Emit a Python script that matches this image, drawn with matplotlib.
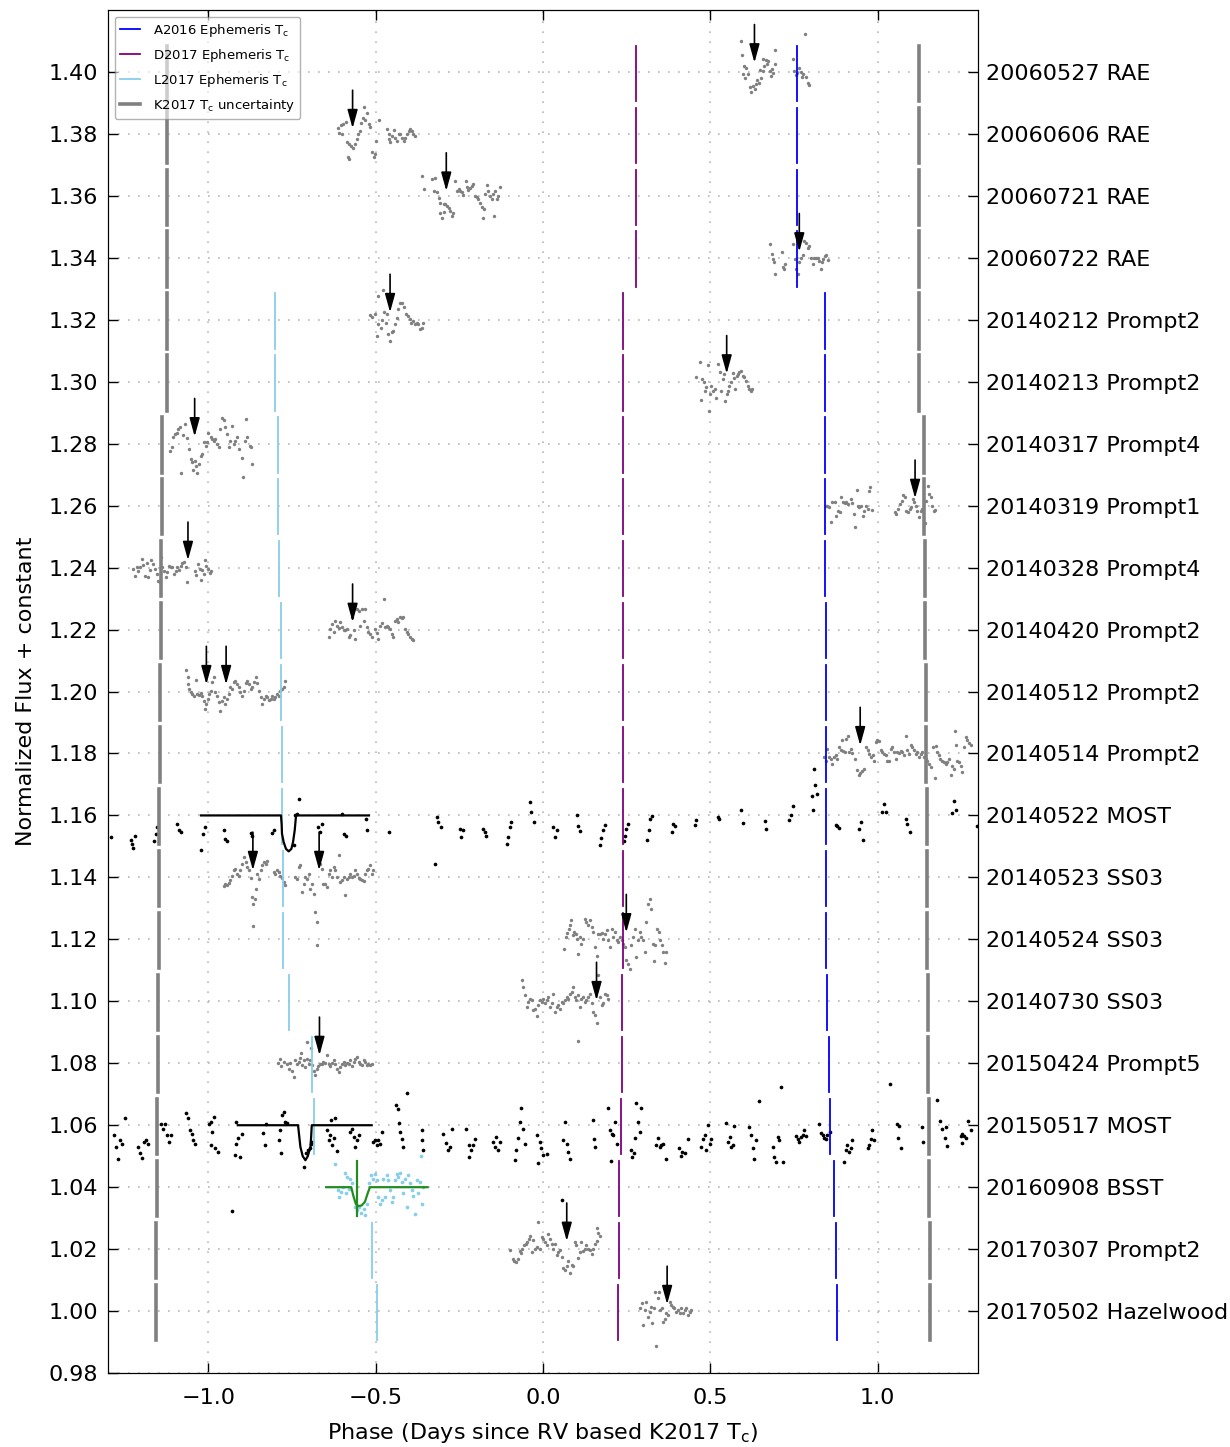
import matplotlib.pyplot as plt

# dataset rows (vertical offsets) and names shown on the right axis
rows = [1.40, 1.38, 1.36, 1.34, 1.32, 1.30, 1.28, 1.26, 1.24, 1.22, 1.20,
        1.18, 1.16, 1.14, 1.12, 1.10, 1.08, 1.06, 1.04, 1.02, 1.00]
names = ['20060527 RAE', '20060606 RAE', '20060721 RAE', '20060722 RAE',
         '20140212 Prompt2', '20140213 Prompt2', '20140317 Prompt4',
         '20140319 Prompt1', '20140328 Prompt4', '20140420 Prompt2',
         '20140512 Prompt2', '20140514 Prompt2', '20140522 MOST',
         '20140523 SS03', '20140524 SS03', '20140730 SS03',
         '20150424 Prompt5', '20150517 MOST', '20160908 BSST',
         '20170307 Prompt2', '20170502 Hazelwood']

# predicted transit centres for each row (phase, days)
nan = float('nan')
a2016_tc = [0.758, 0.758, 0.758, 0.758, 0.843, 0.843, 0.843, 0.843, 0.844, 0.845, 0.845,
            0.846, 0.846, 0.846, 0.847, 0.849, 0.856, 0.857, 0.871, 0.876, 0.879]
d2017_tc = [0.279, 0.279, 0.279, 0.279, 0.239, 0.239, 0.239, 0.239, 0.239, 0.239, 0.239,
            0.239, 0.239, 0.239, 0.239, 0.237, 0.235, 0.234, 0.228, 0.226, 0.224]
l2017_tc = [nan, nan, nan, nan, -0.802, -0.802, -0.793, -0.793, -0.790, -0.784, -0.782,
            -0.781, -0.779, -0.778, -0.776, -0.760, -0.689, -0.684, -0.557, -0.510, -0.496]
k2017_sig = [1.124, 1.124, 1.124, 1.124, 1.125, 1.125, 1.140, 1.140, 1.141, 1.143, 1.146,
             1.146, 1.147, 1.147, 1.148, 1.150, 1.152, 1.153, 1.155, 1.157, 1.157]

# light curves: (phase, flux deviation in ppt) per row
rae0527 = [(0.591, 10.0), (0.594, 5.5), (0.608, 1.2), (0.597, -0.7), (0.603, -1.8), (0.614, -0.7),
           (0.619, -4.8), (0.623, -6.4), (0.629, -4.5), (0.637, -3.8), (0.645, -3.5), (0.652, -1.8),
           (0.657, 0.3), (0.662, 1.9), (0.667, 3.8), (0.670, 2.5), (0.677, 0.3), (0.680, -1.3),
           (0.686, -0.2), (0.692, 2.7), (0.694, 7.0), (0.659, 4.1), (0.746, 4.3), (0.751, 0.3),
           (0.756, -1.0), (0.764, 1.2), (0.771, 0.1), (0.778, -0.7), (0.786, -1.6), (0.791, -3.5),
           (0.794, -4.2), (0.784, 12.3), (0.600, 2.0), (0.633, -5.5), (0.641, -2.5), (0.650, 0.5),
           (0.673, 3.5), (0.683, 0.8), (0.760, -0.5), (0.775, -1.5)]
rae0606 = [(-0.613, 2.0), (-0.605, 2.9), (-0.597, 3.3), (-0.590, 4.0), (-0.610, 0.4), (-0.600, 0.1),
           (-0.587, -2.5), (-0.580, -3.1), (-0.573, -3.9), (-0.567, -4.4), (-0.562, -3.1),
           (-0.557, -1.7), (-0.552, -0.1), (-0.548, 1.0), (-0.543, 3.6), (-0.537, 5.1),
           (-0.533, 4.4), (-0.536, 8.7), (-0.525, 6.9), (-0.521, 3.3), (-0.516, 2.3),
           (-0.583, -7.4), (-0.580, -8.2), (-0.511, -6.0), (-0.506, -7.6), (-0.501, -6.5),
           (-0.498, -2.3), (-0.491, 4.5), (-0.466, 1.5), (-0.461, -0.1), (-0.459, -1.7),
           (-0.456, -2.5), (-0.451, -0.6), (-0.446, 1.2), (-0.441, -1.2), (-0.436, -2.3),
           (-0.431, -0.1), (-0.426, 0.1), (-0.421, -1.2), (-0.416, -2.3), (-0.411, -1.2),
           (-0.406, -0.1), (-0.401, 1.0), (-0.396, 1.5), (-0.391, 1.0), (-0.387, -0.1), (-0.381, -0.6)]
rae0721 = [(-0.361, 6.5), (-0.357, 2.2), (-0.332, 5.4), (-0.322, 5.7), (-0.327, 1.6), (-0.317, 1.1),
           (-0.312, -0.7), (-0.307, -2.2), (-0.297, -2.7), (-0.292, -2.5), (-0.287, -3.2),
           (-0.282, -3.8), (-0.309, -5.4), (-0.302, -7.2), (-0.295, -5.1), (-0.277, -4.8),
           (-0.272, -6.5), (-0.269, -5.4), (-0.262, 4.8), (-0.257, 1.6), (-0.252, 2.2),
           (-0.247, 1.6), (-0.242, 1.1), (-0.238, 0.3), (-0.230, 4.8), (-0.227, 2.7), (-0.223, 1.8),
           (-0.218, 2.5), (-0.213, 3.2), (-0.208, 3.8), (-0.203, 0.0), (-0.197, -0.5),
           (-0.193, -1.1), (-0.188, -2.2), (-0.183, -3.5), (-0.180, -7.0), (-0.176, -4.3),
           (-0.173, 0.5), (-0.168, 3.5), (-0.163, 1.6), (-0.158, 0.0), (-0.153, -1.1), (-0.148, 0.5),
           (-0.146, -6.5), (-0.143, 1.6), (-0.138, -1.1), (-0.133, 0.0), (-0.128, 2.7)]
rae0722 = [(0.679, 4.6), (0.683, 1.2), (0.686, -0.4), (0.689, -1.2), (0.692, -5.3), (0.713, 2.0),
           (0.716, -2.9), (0.721, -3.7), (0.724, -2.0), (0.748, 4.3), (0.752, -0.4), (0.756, -3.6),
           (0.761, -5.3), (0.766, -1.5), (0.771, 0.1), (0.776, 1.0), (0.781, 5.5), (0.786, 4.9),
           (0.791, 3.3), (0.796, 3.9), (0.801, 0.1), (0.806, -2.0), (0.811, 0.1), (0.816, -0.1),
           (0.821, 0.1), (0.826, -1.0), (0.831, -3.6), (0.834, -1.5), (0.838, -0.4), (0.844, 0.6),
           (0.847, 1.0), (0.852, -0.7)]
p2_0212 = [(-0.516, 1.6), (-0.512, 1.0), (-0.502, 1.8), (-0.497, -5.2), (-0.494, 7.7), (-0.492, -1.4),
           (-0.484, -2.5), (-0.477, 9.5), (-0.474, 2.4), (-0.470, -0.9), (-0.464, -4.6),
           (-0.457, -7.0), (-0.452, -4.1), (-0.447, -3.5), (-0.442, -1.4), (-0.437, 0.7),
           (-0.432, 3.4), (-0.426, 5.5), (-0.420, 5.3), (-0.414, 4.0), (-0.409, 1.8), (-0.402, 1.3),
           (-0.397, 0.2), (-0.393, -0.9), (-0.387, -0.5), (-0.382, -1.4), (-0.378, -0.9),
           (-0.373, -1.4), (-0.367, -3.0), (-0.363, -2.5), (-0.358, -0.9), (-0.480, -0.1), (-0.467, 1.8)]
p2_0213 = [(0.456, 1.4), (0.468, 6.5), (0.471, -5.9), (0.476, 0.9), (0.480, -0.2), (0.485, -3.1),
           (0.488, -1.8), (0.493, 5.5), (0.496, -9.4), (0.498, -3.8), (0.503, -1.3), (0.508, -2.9),
           (0.513, -2.4), (0.518, -5.1), (0.522, 5.6), (0.528, 3.0), (0.532, -2.9), (0.537, 0.9),
           (0.542, 2.5), (0.545, -6.1), (0.549, -3.8), (0.553, -2.9), (0.557, -1.3), (0.562, -0.2),
           (0.567, 2.7), (0.572, 1.2), (0.575, -2.4), (0.579, 1.9), (0.583, 2.5), (0.587, 3.0),
           (0.592, 3.5), (0.597, 1.9), (0.602, 1.4), (0.607, 0.3), (0.612, -1.3), (0.617, -2.4),
           (0.622, -2.9), (0.624, -2.4)]
p4_0317 = [(-1.116, -2.5), (-1.110, -1.0), (-1.106, 2.0), (-1.101, 3.1), (-1.095, 3.6), (-1.090, 4.7),
           (-1.086, 5.3), (-1.083, -9.6), (-1.076, 2.9), (-1.070, 6.3), (-1.065, 1.8), (-1.058, -1.7),
           (-1.053, -4.9), (-1.050, -6.0), (-1.046, -8.5), (-1.041, -5.5), (-1.036, -7.1),
           (-1.033, -9.3), (-1.028, -6.6), (-1.023, -3.9), (-1.019, -3.3), (-1.013, 0.7),
           (-1.008, -0.6), (-1.004, 0.4), (-1.000, 3.6), (-0.993, 2.0), (-0.989, 1.5), (-0.984, 1.0),
           (-0.979, 1.5), (-0.974, -0.1), (-0.969, -1.2), (-0.964, 4.7), (-0.959, 8.3), (-0.954, 7.6),
           (-0.949, 5.3), (-0.944, 3.1), (-0.939, -1.2), (-0.934, 1.0), (-0.929, 5.8), (-0.924, -0.1),
           (-0.919, 1.0), (-0.914, 2.0), (-0.907, -1.7), (-0.901, -4.6), (-0.896, -10.6),
           (-0.891, 1.0), (-0.887, 8.0), (-0.884, 2.0), (-0.877, -0.6), (-0.872, -1.0), (-0.869, -6.4)]
p1_0319 = [(0.846, 0.0), (0.850, 0.0), (0.855, -0.5), (0.861, -5.4), (0.865, 1.1), (0.872, 1.1),
           (0.877, -3.2), (0.883, -1.6), (0.887, -2.2), (0.892, 2.9), (0.897, 1.1), (0.902, 0.7),
           (0.907, 1.1), (0.913, 0.5), (0.920, 2.2), (0.925, 0.7), (0.930, -2.7), (0.933, -6.8),
           (0.937, 5.1), (0.940, 0.0), (0.945, -0.5), (0.950, 0.0), (0.955, -3.2), (0.960, -1.6),
           (0.965, 0.0), (0.970, -1.1), (0.975, 4.8), (0.978, 6.1), (0.982, -1.4),
           (1.052, -2.2), (1.056, -2.7), (1.062, -1.1), (1.067, 0.5), (1.072, 1.6), (1.076, 3.5),
           (1.081, 2.7), (1.086, -1.6), (1.090, -2.2), (1.096, -1.1), (1.101, -0.5), (1.106, 2.2),
           (1.110, 1.1), (1.114, 0.0), (1.119, -1.6), (1.124, -3.8), (1.129, -1.6), (1.134, -1.1),
           (1.142, -5.7), (1.146, 1.6), (1.150, 6.5), (1.154, 3.8), (1.159, 2.7), (1.163, 0.0),
           (1.168, -1.6), (1.173, -1.4)]
p4_0328 = [(-1.225, -0.4), (-1.219, -2.6), (-1.214, 0.3), (-1.209, -1.0), (-1.204, 0.1), (-1.199, 2.8),
           (-1.194, 1.0), (-1.189, -2.6), (-1.184, 1.4), (-1.179, -2.9), (-1.175, -0.7), (-1.170, 2.3),
           (-1.165, 1.2), (-1.160, -0.4), (-1.155, -2.0), (-1.151, -4.2), (-1.146, -4.7),
           (-1.143, 3.3), (-1.138, 0.1), (-1.133, -1.0), (-1.128, -2.9), (-1.123, -1.5),
           (-1.118, 0.6), (-1.113, 0.1), (-1.108, 0.1), (-1.103, -2.0), (-1.098, -1.0), (-1.093, 0.3),
           (-1.088, -0.7), (-1.083, 0.6), (-1.078, 1.4), (-1.073, 1.7), (-1.068, 0.1), (-1.063, -4.5),
           (-1.040, -1.0), (-1.036, -2.3), (-1.031, 1.2), (-1.026, -0.4), (-1.023, -4.0),
           (-1.018, -0.7), (-1.013, -2.0), (-1.010, 2.3), (-1.006, 0.6), (-1.001, -0.4),
           (-0.996, -1.8), (-0.993, -1.0)]
p2_0420 = [(-0.641, -2.3), (-0.636, 0.2), (-0.631, 1.8), (-0.626, -0.9), (-0.621, 2.7), (-0.616, 1.3),
           (-0.611, 0.5), (-0.606, 2.3), (-0.601, 0.7), (-0.596, -0.1), (-0.591, -0.3), (-0.586, 0.2),
           (-0.581, -2.5), (-0.576, -1.9), (-0.571, 3.9), (-0.566, -0.3), (-0.561, -3.0),
           (-0.556, 6.7), (-0.551, 6.1), (-0.546, 1.3), (-0.541, 6.7), (-0.536, 2.9), (-0.531, 6.7),
           (-0.526, 0.7), (-0.522, -0.9), (-0.517, -1.4), (-0.512, -2.3), (-0.502, 0.2),
           (-0.497, -1.2), (-0.492, -3.0), (-0.487, 1.3), (-0.482, 2.0), (-0.476, 9.9), (-0.472, 0.7),
           (-0.467, 1.3), (-0.462, 0.7), (-0.457, 0.2), (-0.452, -1.4), (-0.447, -2.3), (-0.442, 2.9),
           (-0.437, 3.4), (-0.432, 2.3), (-0.427, 3.9), (-0.422, 3.8), (-0.417, 3.9), (-0.411, 0.2),
           (-0.405, -0.9), (-0.402, -1.4), (-0.397, -2.3), (-0.392, -3.0), (-0.387, -3.3)]
p2_0512 = [(-1.066, 7.0), (-1.062, 4.8), (-1.060, 2.5), (-1.058, 0.9), (-1.053, -0.2), (-1.048, -0.7),
           (-1.043, -1.3), (-1.036, 3.8), (-1.033, -0.7), (-1.028, -1.0), (-1.023, -0.5),
           (-1.018, -1.3), (-1.013, -2.9), (-1.010, -5.6), (-1.006, -4.0), (-1.001, -2.4),
           (-0.998, -0.7), (-0.993, 0.3), (-0.988, 3.0), (-0.984, 4.6), (-0.979, -0.2), (-0.974, -1.3),
           (-0.969, -3.4), (-0.964, -6.4), (-0.959, -2.9), (-0.954, -1.8), (-0.949, -4.0),
           (-0.944, -2.4), (-0.939, -0.7), (-0.934, 1.4), (-0.929, 0.9), (-0.924, 3.0), (-0.919, 3.3),
           (-0.914, 2.5), (-0.909, 1.4), (-0.904, -0.2), (-0.899, -1.3), (-0.894, 0.3), (-0.889, 2.7),
           (-0.884, 3.5), (-0.880, 2.5), (-0.874, 0.9), (-0.869, 1.4), (-0.864, 3.0), (-0.859, 4.6),
           (-0.854, 2.7), (-0.849, 0.3), (-0.844, -1.8), (-0.839, -4.0), (-0.834, -2.4),
           (-0.829, -1.6), (-0.824, -1.8), (-0.819, -2.6), (-0.814, -2.4), (-0.809, -1.6),
           (-0.805, -2.4), (-0.800, -1.8), (-0.795, -0.7), (-0.790, -1.3), (-0.785, 0.3),
           (-0.780, 0.9), (-0.775, 1.4), (-0.770, 3.5)]
p2_0514 = [(0.841, -1.0), (0.846, -2.3), (0.850, 1.5), (0.855, -1.2), (0.860, -1.7), (0.865, -3.3),
           (0.870, -1.2), (0.875, -0.6), (0.880, -1.7), (0.885, 2.0), (0.890, 1.2), (0.893, 4.2),
           (0.898, 0.7), (0.903, 0.4), (0.907, 4.7), (0.911, 5.5), (0.915, 0.4), (0.920, 1.5),
           (0.925, 0.1), (0.932, -1.7), (0.938, -5.3), (0.943, -7.1), (0.947, -6.4), (0.953, -5.5),
           (0.960, -5.0), (0.965, 2.0), (0.970, 1.0), (0.975, -0.3), (0.980, -1.2), (0.985, -0.6),
           (0.990, -2.5), (0.995, 3.6), (0.999, 4.2), (1.004, 3.9), (1.009, 1.0), (1.014, 0.4),
           (1.019, -0.1), (1.024, -0.6), (1.029, -2.3), (1.034, -2.5), (1.039, 1.5), (1.044, 2.0),
           (1.049, 0.4), (1.054, -1.7), (1.059, 0.4), (1.064, 0.1), (1.069, 0.7), (1.074, 0.4),
           (1.079, -0.6), (1.084, 5.8), (1.089, 1.0), (1.094, -0.1), (1.099, 2.6), (1.104, 2.0),
           (1.109, 1.2), (1.114, -0.1), (1.119, 0.4), (1.124, -1.0), (1.129, -0.1), (1.134, 0.4),
           (1.139, -1.2), (1.144, -1.7), (1.149, -2.3), (1.154, -3.3), (1.159, -4.4), (1.165, 2.0),
           (1.171, -7.8), (1.175, 2.3), (1.178, 0.4), (1.183, -0.6), (1.188, -1.7), (1.193, -2.3),
           (1.198, -2.8), (1.203, -3.3), (1.208, -2.8), (1.213, -1.7), (1.218, -7.1), (1.223, -3.9),
           (1.228, -5.0), (1.231, 7.4), (1.233, 2.6), (1.238, -2.3), (1.243, -2.8), (1.248, -3.9),
           (1.253, -6.1), (1.258, 2.0), (1.263, 5.3), (1.268, 4.2), (1.273, 3.3), (1.278, 2.6)]
most_0522 = [(-1.292, -7.0), (-1.232, -8.0), (-1.227, -9.1), (-1.225, -10.4), (-1.219, -6.5),
             (-1.162, -8.3), (-1.157, -5.9), (-1.154, -3.8), (-1.093, -2.7), (-1.088, -4.8),
             (-1.083, -5.4), (-1.022, -11.1), (-1.016, -5.9), (-1.010, -3.8), (-0.954, -4.8),
             (-0.949, -7.5), (-0.944, -8.4), (-0.874, -5.7), (-0.869, -6.5), (-0.810, -5.7),
             (-0.803, -4.6), (-0.745, -9.7), (-0.740, 0.0), (-0.730, 5.4), (-0.735, 0.6),
             (-0.671, -3.8), (-0.666, -5.4), (-0.661, -2.7), (-0.601, 0.6), (-0.596, -5.9),
             (-0.589, -6.5), (-0.530, -1.1), (-0.527, -4.8), (-0.459, -5.4), (-0.318, -0.5),
             (-0.313, -2.2), (-0.306, -3.8), (-0.323, -15.6), (-0.248, -4.3), (-0.244, -7.0),
             (-0.238, -4.8), (-0.179, -4.3), (-0.172, -5.4), (-0.169, -6.5), (-0.109, -9.1),
             (-0.104, -7.0), (-0.099, -3.8), (-0.096, -2.2), (-0.040, 4.3), (-0.035, 1.1),
             (-0.027, -2.2), (0.031, -3.8), (0.036, -7.0), (0.041, -4.6), (0.102, 0.0), (0.106, -3.5),
             (0.110, -5.1), (0.170, -9.4), (0.173, -7.2), (0.178, -4.6), (0.185, -3.2), (0.241, -8.1),
             (0.245, -6.5), (0.249, -4.3), (0.254, -2.9), (0.312, -7.8), (0.317, -4.8), (0.321, -1.1),
             (0.325, -0.3), (0.387, -5.4), (0.390, -2.7), (0.394, -3.5), (0.453, -3.2), (0.456, -1.6),
             (0.523, -0.5), (0.526, -1.1), (0.592, 1.6), (0.597, -2.5), (0.665, -1.9), (0.667, -4.3),
             (0.736, -1.6), (0.741, 0.0), (0.746, 3.2), (0.804, 6.2), (0.806, 1.6), (0.811, 15.1),
             (0.814, 9.7), (0.818, 7.0), (0.875, -3.2), (0.880, -3.5), (0.885, -4.0), (0.945, -4.3),
             (0.950, -2.2), (0.957, -7.8), (1.014, 1.1), (1.019, 3.8), (1.026, 1.1), (1.084, -1.1),
             (1.089, -2.7), (1.096, -5.4), (1.223, 0.7), (1.228, 4.8), (1.235, 1.6), (1.297, -3.5)]
ss03_0523 = [(-0.954, -2.9), (-0.949, -2.0), (-0.944, -2.6), (-0.939, -1.8), (-0.934, -1.0),
             (-0.929, 0.6), (-0.924, 2.3), (-0.919, 2.8), (-0.914, 1.2), (-0.909, 0.6), (-0.904, 2.3),
             (-0.899, 4.4), (-0.894, 6.5), (-0.889, 4.9), (-0.884, 3.3), (-0.880, 2.3), (-0.874, -0.1),
             (-0.871, -6.4), (-0.867, -8.5), (-0.866, -15.8), (-0.862, -6.9), (-0.859, -3.6),
             (-0.854, 1.2), (-0.849, -0.4), (-0.844, 2.3), (-0.839, 3.9), (-0.834, 5.0), (-0.829, 4.4),
             (-0.824, 5.3), (-0.805, 1.7), (-0.800, 1.2), (-0.795, 2.3), (-0.790, 1.7), (-0.785, 0.6),
             (-0.780, -0.1), (-0.775, -1.5), (-0.770, -2.6), (-0.740, 0.1), (-0.735, -0.4),
             (-0.730, 3.3), (-0.725, 3.9), (-0.720, -4.7), (-0.715, -2.0), (-0.710, 0.1),
             (-0.706, -0.4), (-0.700, 1.2), (-0.695, -3.6), (-0.691, -2.0), (-0.685, -5.3),
             (-0.680, -11.2), (-0.676, -14.4), (-0.674, -21.9), (-0.671, 6.5), (-0.666, 4.4),
             (-0.661, 2.8), (-0.656, -2.0), (-0.651, -2.0), (-0.646, -3.1), (-0.641, 1.2),
             (-0.636, 2.3), (-0.631, 0.1), (-0.626, 3.3), (-0.621, 2.3), (-0.616, 0.1), (-0.611, 7.1),
             (-0.606, -1.5), (-0.601, -1.0), (-0.596, 0.1), (-0.591, -5.8), (-0.586, -0.4),
             (-0.581, 0.1), (-0.576, 1.2), (-0.571, 0.1), (-0.566, 0.6), (-0.561, 2.3), (-0.556, 1.2),
             (-0.551, -0.1), (-0.546, -0.4), (-0.541, -1.0), (-0.536, -1.2), (-0.531, 1.2),
             (-0.526, 2.3), (-0.522, 2.8), (-0.517, 3.9), (-0.512, 1.2), (-0.507, 2.3)]
ss03_0524 = [(0.063, -3.0), (0.068, 0.7), (0.073, 2.0), (0.077, 3.4), (0.080, 4.5), (0.083, 6.1),
             (0.089, 1.3), (0.093, 2.4), (0.098, 1.8), (0.103, 0.2), (0.106, -4.6), (0.110, 0.7),
             (0.115, -1.4), (0.120, 0.2), (0.125, 6.7), (0.130, 5.6), (0.135, 4.5), (0.140, 6.1),
             (0.145, 4.0), (0.150, 2.4), (0.155, -2.5), (0.160, -5.5), (0.165, 1.8), (0.170, 1.6),
             (0.175, 2.0), (0.180, 0.2), (0.185, 1.8), (0.190, 2.9), (0.195, -0.1), (0.200, -2.5),
             (0.205, 3.4), (0.210, 0.7), (0.215, 2.4), (0.220, -0.1), (0.225, -0.9), (0.230, 0.7),
             (0.235, -0.3), (0.240, -1.4), (0.244, -2.5), (0.249, -6.8), (0.254, -7.8), (0.259, -9.5),
             (0.264, -1.9), (0.269, 0.7), (0.274, 3.4), (0.279, -5.6), (0.284, -0.3), (0.289, 2.4),
             (0.294, 0.7), (0.299, -0.3), (0.304, -4.1), (0.309, 5.6), (0.314, 11.5), (0.319, 13.1),
             (0.324, 9.9), (0.329, -1.6), (0.331, -7.0), (0.336, -1.9), (0.341, 3.4), (0.346, 2.4),
             (0.351, -0.1), (0.355, -1.9), (0.358, -4.1), (0.364, -7.6), (0.369, -4.1)]
ss03_0730 = [(-0.063, 6.8), (-0.059, 4.6), (-0.054, 1.9), (-0.049, -1.8), (-0.044, -0.2), (-0.039, 0.9),
             (-0.034, 0.3), (-0.029, -2.9), (-0.024, -2.4), (-0.019, -4.8), (-0.014, -1.3),
             (-0.009, 0.3), (-0.004, -0.2), (0.001, 0.9), (0.006, -0.7), (0.011, 0.3), (0.016, 1.4),
             (0.021, -1.8), (0.026, -0.7), (0.031, 2.5), (0.036, -3.4), (0.041, -1.8), (0.046, -1.3),
             (0.051, -2.4), (0.056, -0.2), (0.061, -0.7), (0.066, 0.3), (0.071, 1.4), (0.075, 0.9),
             (0.080, 2.5), (0.086, 3.0), (0.090, 4.6), (0.095, 1.4), (0.100, 0.3), (0.105, 1.9),
             (0.110, -1.8), (0.115, 0.9), (0.120, 1.4), (0.125, -0.2), (0.130, 0.3), (0.135, 1.4),
             (0.140, 2.5), (0.145, -0.7), (0.150, -3.4), (0.155, -4.5), (0.160, -7.0), (0.165, 8.6),
             (0.170, 1.4), (0.175, -1.3), (0.180, -0.7), (0.185, 2.5), (0.190, 1.9), (0.195, 0.9),
             (0.104, -12.9)]
p5_0424 = [(-0.792, 0.1), (-0.787, 1.5), (-0.782, -1.0), (-0.775, 0.4), (-0.765, -0.3), (-0.760, -1.7),
           (-0.755, 0.1), (-0.750, -2.5), (-0.745, -4.4), (-0.740, 1.0), (-0.735, -0.1), (-0.730, 0.4),
           (-0.725, 1.8), (-0.720, -0.6), (-0.715, 1.0), (-0.710, -1.2), (-0.706, 1.5), (-0.700, -0.1),
           (-0.695, 1.0), (-0.691, -0.6), (-0.685, -2.5), (-0.680, -3.9), (-0.676, -1.7),
           (-0.671, -1.0), (-0.666, -0.1), (-0.661, -0.3), (-0.656, 0.4), (-0.651, 0.1), (-0.646, 2.6),
           (-0.641, -0.1), (-0.636, -1.0), (-0.631, 0.1), (-0.626, 1.0), (-0.621, -0.3),
           (-0.616, -1.7), (-0.611, -2.8), (-0.606, -1.2), (-0.601, -0.1), (-0.596, 0.4),
           (-0.591, -0.6), (-0.586, 0.1), (-0.581, -0.3), (-0.576, 1.0), (-0.571, -1.0), (-0.566, 0.4),
           (-0.561, 1.5), (-0.556, 2.0), (-0.551, 0.4), (-0.546, -0.1), (-0.541, -0.6), (-0.536, 1.0),
           (-0.531, 0.4), (-0.526, -0.6), (-0.522, -0.1), (-0.517, -0.6), (-0.512, -0.3),
           (-0.724, 3.2), (-0.694, 4.8), (-0.706, 6.8)]
most_0517 = [(-1.282, -3.2), (-1.275, -7.0), (-1.269, -11.0), (-1.264, -4.8), (-1.258, -5.9), (-1.248, 2.2),
             (-1.209, -7.0), (-1.205, -9.1), (-1.199, -10.7), (-1.192, -5.4), (-1.185, -4.8),
             (-1.179, -5.9), (-1.142, 0.5), (-1.137, -1.1), (-1.130, 0.5), (-1.123, -3.2),
             (-1.118, -5.4), (-1.113, -3.2), (-1.066, 3.8), (-1.060, 2.2), (-1.056, -1.6),
             (-1.050, -2.7), (-1.046, -4.8), (-1.040, -5.9), (-0.998, 0.5), (-0.993, 1.1),
             (-0.989, -2.2), (-0.991, -6.5), (-0.979, -7.5), (-0.971, -8.6), (-0.984, 2.7),
             (-0.929, -27.7), (-0.921, -9.7), (-0.916, -6.1), (-0.911, -4.0), (-0.904, -10.2),
             (-0.899, -2.7), (-0.917, 1.1), (-0.838, -2.5), (-0.832, -6.5), (-0.828, 0.3),
             (-0.790, -4.8), (-0.785, -1.6), (-0.780, 3.2), (-0.775, 4.2), (-0.782, -8.9),
             (-0.770, 1.1), (-0.765, 0.8), (-0.715, -13.5), (-0.708, -9.1), (-0.702, -8.1),
             (-0.697, -7.5), (-0.693, -6.1), (-0.691, -5.4), (-0.646, -1.6), (-0.641, -4.8),
             (-0.636, -3.2), (-0.631, -6.5), (-0.626, -4.0), (-0.621, 2.2), (-0.616, -8.4),
             (-0.634, 1.6), (-0.576, -2.2), (-0.571, -1.1), (-0.566, -3.8), (-0.561, -7.0),
             (-0.556, -4.8), (-0.551, -3.2), (-0.507, -5.4), (-0.502, -4.8), (-0.497, -6.5),
             (-0.492, -4.8), (-0.487, -5.9), (-0.482, -2.2), (-0.440, 6.5), (-0.434, 5.1),
             (-0.430, 0.8), (-0.426, -2.2), (-0.422, -4.3), (-0.417, -7.0), (-0.407, 10.4),
             (-0.363, -1.4), (-0.361, -4.8), (-0.358, -8.1), (-0.298, -2.7), (-0.291, -5.7),
             (-0.285, -8.1), (-0.278, -7.0), (-0.273, -1.1), (-0.229, -1.1), (-0.222, -6.5),
             (-0.216, -8.1), (-0.209, -6.5), (-0.202, -4.6), (-0.220, -10.2), (-0.149, -5.4),
             (-0.144, -7.0), (-0.139, -3.8), (-0.134, -8.1), (-0.129, -5.4), (-0.084, -11.2),
             (-0.080, -8.1), (-0.075, -4.0), (-0.069, 1.1), (-0.065, 5.7), (-0.060, -1.1),
             (-0.054, -6.1), (-0.017, -3.2), (-0.010, -5.4), (-0.005, -7.5), (0.000, -9.7),
             (-0.015, -12.2), (0.011, -9.4), (0.056, -24.2), (0.061, -4.8), (0.066, 1.1), (0.071, -6.1),
             (0.075, -8.6), (0.080, -10.8), (0.148, 1.8), (0.152, -4.3), (0.155, -7.0), (0.195, 5.4),
             (0.200, -1.6), (0.205, -2.7), (0.210, -3.2), (0.215, 1.1), (0.220, -5.9), (0.202, -11.5),
             (0.264, -8.1), (0.267, -10.2), (0.271, -8.9), (0.274, -4.0), (0.279, 7.2), (0.284, 1.1),
             (0.289, -2.2), (0.294, 5.4), (0.337, -6.5), (0.344, -4.0), (0.349, -7.0), (0.354, -6.5),
             (0.359, -5.9), (0.367, -11.0), (0.406, -7.2), (0.411, -10.0), (0.416, -8.6),
             (0.423, -9.1), (0.433, -4.3), (0.473, -7.0), (0.478, -4.3), (0.483, -3.2), (0.488, -8.1),
             (0.493, 0.0), (0.498, -6.1), (0.503, -4.3), (0.548, 0.7), (0.553, -5.4), (0.558, -3.8),
             (0.562, -7.0), (0.567, -6.5), (0.572, -0.3), (0.617, -0.7), (0.622, -3.2), (0.627, -7.5),
             (0.632, -10.8), (0.637, -4.8), (0.647, 7.7), (0.686, -7.0), (0.691, -10.2),
             (0.697, -11.8), (0.701, -3.8), (0.706, -4.8), (0.711, 12.2), (0.716, -11.8),
             (0.756, -3.5), (0.761, -4.6), (0.766, -5.4), (0.771, -3.8), (0.776, -3.2), (0.781, -1.4),
             (0.786, -3.5), (0.826, 0.3), (0.831, -2.5), (0.836, -3.2), (0.841, -4.0), (0.845, -4.6),
             (0.850, -3.2), (0.857, -2.2), (0.900, -11.8), (0.905, -8.1), (0.910, -6.5), (0.915, -8.6),
             (0.920, -7.5), (0.925, -4.8), (0.970, -7.5), (0.975, -6.5), (0.980, -4.3), (0.984, -1.4),
             (0.989, -4.8), (1.036, 13.4), (1.059, 0.3), (1.064, -0.3), (1.062, -4.0), (1.069, -7.2),
             (1.134, -0.5), (1.136, -5.4), (1.178, 8.3), (1.188, 1.4), (1.193, -1.1), (1.203, -0.7),
             (1.201, -4.0), (1.206, -6.8), (1.248, -3.5), (1.253, -2.7), (1.258, -3.5), (1.263, -4.0),
             (1.270, 1.4), (1.278, -1.6), (1.251, -5.7)]
bsst_0908 = [(-0.621, 7.4), (-0.613, -1.0), (-0.609, -3.1), (-0.603, -1.5), (-0.598, 0.1), (-0.593, 4.6),
             (-0.589, -2.0), (-0.585, 3.3), (-0.581, -0.7), (-0.576, 2.8), (-0.571, 1.4),
             (-0.563, -6.4), (-0.556, -7.4), (-0.549, -6.5), (-0.543, -8.3), (-0.536, -7.2),
             (-0.531, -9.0), (-0.526, -5.3), (-0.520, 1.2), (-0.514, 3.9), (-0.507, 2.8), (-0.502, 4.2),
             (-0.497, 2.3), (-0.492, -3.1), (-0.487, -5.3), (-0.482, -4.2), (-0.477, 2.8),
             (-0.472, -3.1), (-0.467, 3.9), (-0.462, 2.3), (-0.457, -1.0), (-0.452, -4.7),
             (-0.447, -3.1), (-0.442, 2.3), (-0.437, 4.2), (-0.432, 3.3), (-0.427, 4.6), (-0.422, 1.7),
             (-0.417, -2.0), (-0.412, 2.8), (-0.407, -6.4), (-0.402, 3.9), (-0.397, 1.4), (-0.392, -1.0),
             (-0.387, -2.9), (-0.382, -8.5), (-0.378, 2.3), (-0.373, -2.0), (-0.367, 1.7),
             (-0.363, -5.3), (-0.358, 0.1), (-0.366, 10.1)]
p2_0307 = [(-0.098, -0.3), (-0.090, -3.3), (-0.086, -3.8), (-0.080, -4.1), (-0.076, -3.3), (-0.070, -0.5),
           (-0.066, -1.2), (-0.062, 0.2), (-0.057, 1.3), (-0.052, 1.8), (-0.047, 2.4), (-0.042, 3.4),
           (-0.039, 4.2), (-0.034, -0.9), (-0.029, 3.1), (-0.024, 0.2), (-0.019, 0.7), (-0.014, 8.8),
           (-0.009, 0.2), (-0.004, 3.9), (0.001, 3.4), (0.006, 2.4), (0.011, 1.3), (0.016, 4.8),
           (0.021, 3.4), (0.026, 1.8), (0.031, 0.2), (0.036, 1.8), (0.041, -1.9), (0.046, -0.9),
           (0.051, -0.3), (0.056, -2.5), (0.061, -6.2), (0.066, -6.8), (0.071, -5.5), (0.075, -3.8),
           (0.080, -7.8), (0.086, -5.2), (0.090, -5.5), (0.095, 2.4), (0.100, 1.3), (0.105, -2.7),
           (0.110, -0.9), (0.115, 2.4), (0.120, -0.5), (0.125, 0.2), (0.130, 1.3), (0.135, 0.2),
           (0.140, -0.3), (0.145, -1.6), (0.150, 0.2), (0.155, 1.8), (0.160, 2.6), (0.162, 6.7),
           (0.165, 5.1), (0.170, 4.2)]
hazel_0502 = [(0.291, 0.9), (0.296, 2.5), (0.299, -4.5), (0.304, 0.3), (0.309, 3.0), (0.314, -1.8),
              (0.319, -0.2), (0.324, 1.4), (0.327, -3.9), (0.331, 0.9), (0.335, 6.2), (0.339, -11.2),
              (0.343, 4.1), (0.347, 6.2), (0.351, 0.3), (0.355, 0.9), (0.359, -3.4), (0.364, -2.4),
              (0.369, -0.7), (0.374, -1.3), (0.379, 3.0), (0.384, 1.9), (0.388, 1.4), (0.393, 0.9),
              (0.398, -0.2), (0.403, 0.3), (0.408, -0.5), (0.413, 0.9), (0.418, -0.7), (0.423, 0.3),
              (0.428, 0.9), (0.433, -1.3), (0.438, -0.2), (0.443, 0.5)]

# transit models (phase, ppt) for the two MOST nights and BSST
most1_model = [(-1.022, 0.0), (-0.783, 0.0), (-0.781, -3.0), (-0.780, -5.9), (-0.775, -8.6), (-0.768, -10.8),
               (-0.760, -11.6), (-0.752, -10.8), (-0.747, -8.6), (-0.742, -4.8), (-0.738, 0.0),
               (-0.520, 0.0)]
most2_model = [(-0.912, 0.0), (-0.732, 0.0), (-0.728, -4.0), (-0.725, -7.0), (-0.718, -10.0),
               (-0.710, -11.3), (-0.703, -10.0), (-0.695, -7.0), (-0.693, -4.0), (-0.691, 0.0),
               (-0.512, 0.0)]
bsst_model = [(-0.648, 0.0), (-0.573, 0.0), (-0.566, -3.1), (-0.559, -5.5), (-0.551, -6.1),
              (-0.542, -5.9), (-0.532, -4.7), (-0.524, -2.0), (-0.517, 0.0), (-0.345, 0.0)]
bsst_tc = -0.557

# arrows marking the transit times (phase, flux at arrow tip)
arrows = [(0.632, 1.4030), (-0.569, 1.3818), (-0.289, 1.3616), (0.766, 1.3420), (-0.457, 1.3224),
          (0.549, 1.3026), (-1.041, 1.2823), (1.112, 1.2624), (-1.061, 1.2424), (-0.569, 1.2224),
          (-1.006, 1.2023), (-0.947, 1.2023), (0.948, 1.1826), (-0.867, 1.1423), (-0.669, 1.1423),
          (0.249, 1.1222), (0.160, 1.1003), (-0.668, 1.0826), (0.071, 1.0226), (0.371, 1.0022)]

lc_list = [rae0527, rae0606, rae0721, rae0722, p2_0212, p2_0213, p4_0317, p1_0319, p4_0328,
           p2_0420, p2_0512, p2_0514, most_0522, ss03_0523, ss03_0524, ss03_0730, p5_0424,
           most_0517, bsst_0908, p2_0307, hazel_0502]

fig = plt.figure(figsize=(12.3, 14.47), dpi=100)
ax = fig.add_axes([0.0878, 0.0511, 0.7073, 0.942])

lo, hi = -0.0093, 0.0085

# ephemeris segments, one per dataset row
for i, y in enumerate(rows):
    ax.plot([a2016_tc[i]] * 2, [y + lo, y + hi], color='blue', lw=1.3, zorder=3,
            label='A2016 Ephemeris T$_\\mathrm{c}$' if i == 0 else None)
for i, y in enumerate(rows):
    ax.plot([d2017_tc[i]] * 2, [y + lo, y + hi], color='purple', lw=1.3, zorder=3,
            label='D2017 Ephemeris T$_\\mathrm{c}$' if i == 0 else None)
first = True
for i, y in enumerate(rows):
    if l2017_tc[i] != l2017_tc[i]:
        continue
    ax.plot([l2017_tc[i]] * 2, [y + lo, y + hi], color='skyblue', lw=1.3, zorder=3,
            label='L2017 Ephemeris T$_\\mathrm{c}$' if first else None)
    first = False
for i, y in enumerate(rows):
    ax.plot([-k2017_sig[i]] * 2, [y + lo, y + hi], color='gray', lw=2.6, zorder=3,
            label='K2017 T$_\\mathrm{c}$ uncertainty' if i == 0 else None)
    ax.plot([k2017_sig[i]] * 2, [y + lo, y + hi], color='gray', lw=2.6, zorder=3)

# light curves
for lc, y, name in zip(lc_list, rows, names):
    t = [p[0] for p in lc]
    f = [y + p[1] * 1e-3 for p in lc]
    if 'MOST' in name:
        ax.scatter(t, f, s=7, color='black', linewidths=0, zorder=2)
    elif 'BSST' in name:
        ax.scatter(t, f, s=7, color='skyblue', linewidths=0, zorder=2)
    else:
        ax.scatter(t, f, s=6, color='gray', linewidths=0, zorder=2)

# models
for model, y, col in [(most1_model, 1.16, 'black'), (most2_model, 1.06, 'black'),
                      (bsst_model, 1.04, '#228b22')]:
    ax.plot([p[0] for p in model], [y + p[1] * 1e-3 for p in model], color=col, lw=1.6, zorder=4)
ax.plot([bsst_tc, bsst_tc], [1.04 + lo, 1.04 + hi], color='#228b22', lw=1.6, zorder=4)

for x, tip in arrows:
    ax.annotate('', xy=(x, tip), xytext=(x, tip + 0.0123),
                arrowprops=dict(arrowstyle='-|>,head_length=0.8,head_width=0.22', color='black',
                                lw=1.2, mutation_scale=14, shrinkA=0, shrinkB=0), zorder=5)

ax.set_xlim(-1.3, 1.3)
ax.set_ylim(0.98, 1.42)
ax.set_xticks([-1.0, -0.5, 0.0, 0.5, 1.0])
ax.set_yticks([0.98] + rows[::-1])
ax.set_yticklabels(['%.2f' % v for v in [0.98] + rows[::-1]])
ax.grid(True, linestyle=(0, (1, 5)), color='#b8b8b8', lw=1.2)
ax.tick_params(direction='in', top=True, right=False, length=7, width=1, labelsize=16, pad=7)
ax.tick_params(axis='x', pad=11)
ax.set_xlabel('Phase (Days since RV based K2017 T$_\\mathrm{c}$)', fontsize=16, labelpad=9)
ax.set_ylabel('Normalized Flux + constant', fontsize=16, labelpad=9)

ax2 = ax.twinx()
ax2.set_ylim(0.98, 1.42)
ax2.set_yticks(rows)
ax2.set_yticklabels(names)
ax2.tick_params(direction='in', length=7, width=1, labelsize=16, pad=6)

ax.legend(loc='upper left', fontsize=9.5, framealpha=0.6, handlelength=1.5,
          handletextpad=1.0, labelspacing=0.6, edgecolor='gray')

fig.savefig('out.png', dpi=100)
